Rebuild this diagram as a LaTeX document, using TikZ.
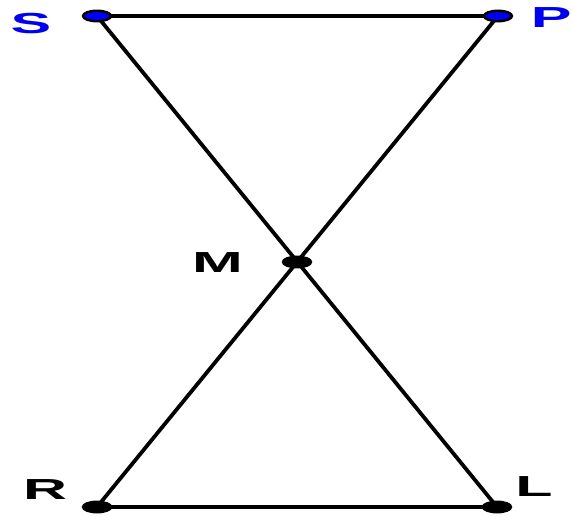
\documentclass[tikz,border=0pt]{standalone}
\usepackage{fontspec}
\setmainfont{Liberation Sans}
\usetikzlibrary{shapes.geometric}
\definecolor{ptblue}{RGB}{0,0,240}
\begin{document}
\begin{tikzpicture}[x=1pt,y=1pt,seg/.style={line width=3.8pt},dot/.style={ellipse,draw,line width=2.4pt,fill=black,minimum width=28pt,minimum height=10.5pt,inner sep=0pt},lbl/.style={font=\bfseries\fontsize{29}{29}\selectfont,xscale=2.1,inner sep=0pt}]
\useasboundingbox (0,0) rectangle (572,516);
\coordinate (s) at (97,500);\coordinate (p) at (498,500);\coordinate (m) at (297,254);
\coordinate (r) at (97,9);\coordinate (l) at (497,9);
\draw[seg,line width=3.2pt](s)--(p);\draw[seg](r)--(l);
\draw[seg](s)--(l);\draw[seg](p)--(r);
\node[dot,fill=ptblue](sd) at (s){};\node[dot,fill=ptblue](pd) at (p){};
\node[dot](md) at (m){};\node[dot](rd) at (r){};\node[dot](ld) at (l){};
\node[lbl,text=ptblue](sl) at (31,492){S};\node[lbl,text=ptblue,anchor=east](pl) at (572,498.5){P};
\node[lbl](ml) at (217.5,253){M};\node[lbl](rl) at (45,26){R};\node[lbl](ll) at (534,29){L};
\end{tikzpicture}
\end{document}
